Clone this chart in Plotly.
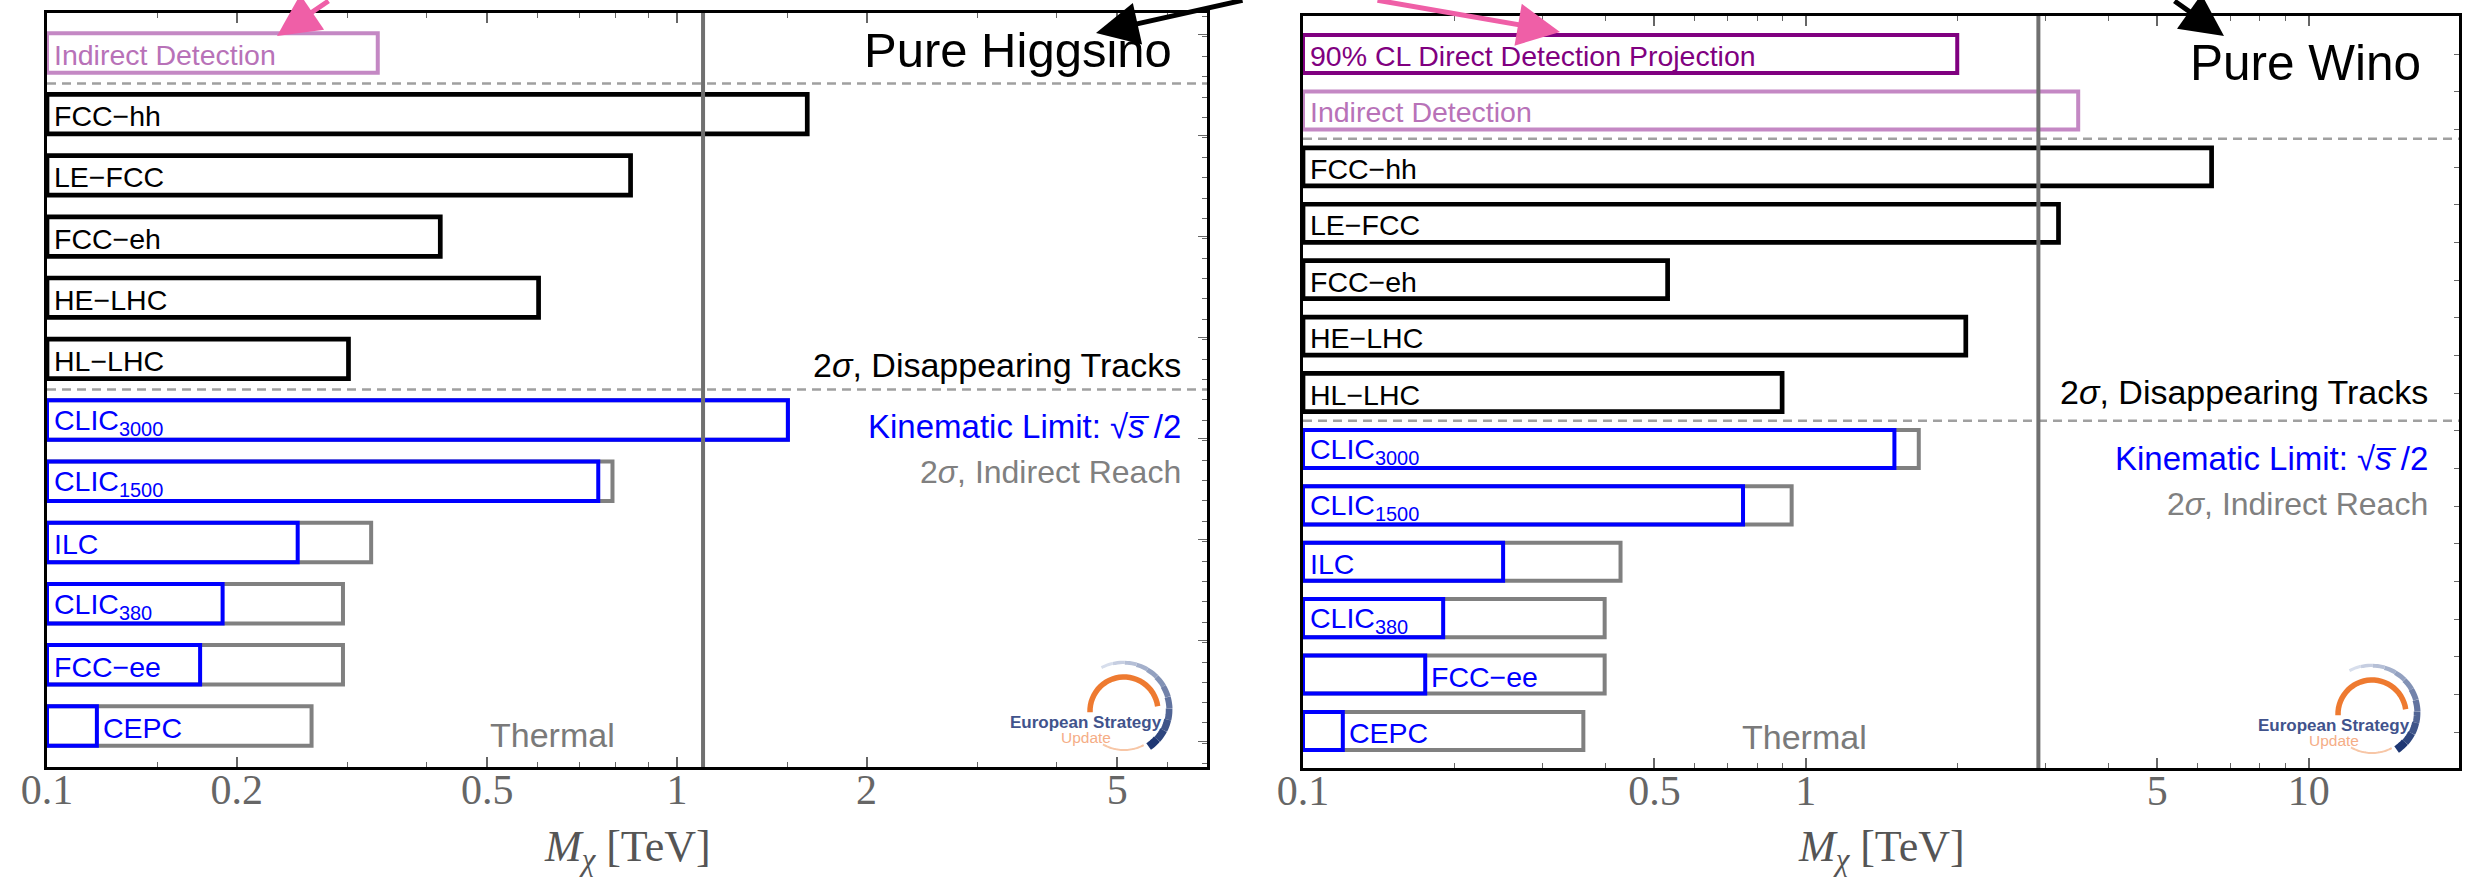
import numpy as np
import plotly.graph_objects as go

W, H = 2465, 878

# ---------------- data (TeV) ----------------
hadron_labels = ["FCC−hh", "LE−FCC", "FCC−eh", "HE−LHC", "HL−LHC"]
lepton_labels = ["CLIC<sub>3000</sub>", "CLIC<sub>1500</sub>", "ILC", "CLIC<sub>380</sub>", "FCC−ee", "CEPC"]

# Pure Higgsino
higgsino_indirect_detection = [0.335]
higgsino_hadron = [1.61, 0.844, 0.421, 0.603, 0.301]
higgsino_kinematic = [1.50, 0.75, 0.25, 0.19, 0.175, 0.12]
higgsino_indirect_reach = [1.50, 0.79, 0.327, 0.295, 0.295, 0.263]
higgsino_thermal = 1.1

# Pure Wino
wino_direct_detection = [2.0]
wino_indirect_detection = [3.48]
wino_hadron = [6.41, 3.18, 0.531, 2.08, 0.897]
wino_kinematic = [1.50, 0.75, 0.25, 0.19, 0.175, 0.12]
wino_indirect_reach = [1.677, 0.937, 0.428, 0.398, 0.398, 0.361]
wino_thermal = 2.9

# ticks
left_tickvals = [0.1, 0.2, 0.5, 1, 2, 5]
left_ticktext = ["0.1", "0.2", "0.5", "1", "2", "5"]
left_minor = [0.15, 0.3, 0.4, 0.6, 0.7, 0.8, 0.9, 1.5, 3, 4, 6]
right_tickvals = [0.1, 0.5, 1, 5, 10]
right_ticktext = ["0.1", "0.5", "1", "5", "10"]
right_minor = [0.2, 0.3, 0.4, 0.6, 0.7, 0.8, 0.9, 2, 3, 4, 6, 7, 8, 9]

SANS = "Liberation Sans, Arial, Helvetica, sans-serif"
SERIF = "Liberation Serif, Times New Roman, serif"
BLUE = "#0000ff"
GRAY = "#808080"
PINK_LIGHT = "#c488c4"
PURPLE = "#800080"


def px(x):
    return x / W


def py(y):
    return 1 - y / H


fig = go.Figure()

LEFT = dict(x0=47, x1=1207, ytop=13, ybot=767, xr=[0.1, 6.94], yr=[-0.670, 11.654], bw=0.645)
RIGHT = dict(x0=1303, x1=2459, ytop=16, ybot=768, xr=[0.1, 19.9], yr=[-0.656, 12.674], bw=0.675)


def add_bars(xa, ya, vals, ypos, color, lw, width):
    fig.add_trace(go.Bar(orientation="h", y=ypos, x=[v - 0.1 for v in vals], base=[0.1] * len(vals),
                         width=width, marker=dict(color="rgba(0,0,0,0)", line=dict(color=color, width=lw)),
                         xaxis=xa, yaxis=ya, showlegend=False, hoverinfo="skip"))


def add_label(xa, ya, text, y, color, xval=0.1, xshift=5):
    fig.add_annotation(xref=xa, yref=ya, x=np.log10(xval), y=y, text=text, showarrow=False,
                       xanchor="left", yanchor="middle", xshift=xshift, yshift=-2,
                       font=dict(family=SANS, size=28.5, color=color))


def add_text(x, y, text, size, color, anchor="right", family=SANS):
    fig.add_annotation(xref="paper", yref="paper", x=px(x), y=py(y), text=text, showarrow=False,
                       xanchor=anchor, yanchor="middle", font=dict(family=family, size=size, color=color))


def panel(xa, ya, P, top_rows, hadron, kin, ind, outside, thermal):
    n_top = len(top_rows)
    hadron_y = [5 + len(hadron) - i for i in range(len(hadron))]
    lepton_y = [len(kin) - 1 - i for i in range(len(kin))]
    # thermal line
    fig.add_trace(go.Scatter(x=[thermal, thermal], y=P["yr"], mode="lines",
                             line=dict(color="#707070", width=4), xaxis=xa, yaxis=ya,
                             showlegend=False, hoverinfo="skip"))
    # top rows (direct / indirect detection)
    for k, (vals, color, text, tcolor) in enumerate(top_rows):
        yv = 11 + n_top - 1 - k
        add_bars(xa, ya, vals, [yv], color, 4, P["bw"])
        add_label(xa, ya, text, yv, tcolor)
    # hadron colliders
    add_bars(xa, ya, hadron, hadron_y, "black", 4.7, P["bw"])
    for t, yv in zip(hadron_labels, hadron_y):
        add_label(xa, ya, t, yv, "black")
    # lepton colliders
    add_bars(xa, ya, ind, lepton_y, GRAY, 4, P["bw"])
    add_bars(xa, ya, kin, lepton_y, BLUE, 4, P["bw"])
    for t, yv, kv, out in zip(lepton_labels, lepton_y, kin, outside):
        if out:
            add_label(xa, ya, t, yv, BLUE, xval=kv, xshift=4)
        else:
            add_label(xa, ya, t, yv, BLUE)
    # dashed separators
    for yv in (10.5, 5.5):
        fig.add_shape(type="line", xref=xa + " domain", yref=ya, x0=0, x1=1, y0=yv, y1=yv,
                      line=dict(color="#a0a0a0", width=2.5, dash="9px,6px"), layer="below")


panel("x", "y", LEFT,
      [(higgsino_indirect_detection, PINK_LIGHT, "Indirect Detection", "#b872b8")],
      higgsino_hadron, higgsino_kinematic, higgsino_indirect_reach,
      [False, False, False, False, False, True], higgsino_thermal)
panel("x2", "y2", RIGHT,
      [(wino_direct_detection, PURPLE, "90% CL Direct Detection Projection", PURPLE),
       (wino_indirect_detection, PINK_LIGHT, "Indirect Detection", "#b872b8")],
      wino_hadron, wino_kinematic, wino_indirect_reach,
      [False, False, False, False, True, True], wino_thermal)


def xaxis_cfg(P, tv, tt, minor, anchor):
    return dict(type="log", domain=[px(P["x0"]), px(P["x1"])],
                range=[np.log10(P["xr"][0]), np.log10(P["xr"][1])],
                tickmode="array", tickvals=tv, ticktext=tt, ticks="inside", ticklen=10,
                tickwidth=1.5, tickcolor="#666", ticklabelstandoff=-16,
                minor=dict(tickmode="array", tickvals=minor, ticks="inside", ticklen=5,
                           tickwidth=1.2, tickcolor="#666", showgrid=False),
                showline=True, linecolor="black", linewidth=3, mirror="allticks",
                showgrid=False, zeroline=False, anchor=anchor,
                tickfont=dict(family=SERIF, size=42, color="#666"), automargin=False, fixedrange=True)


def yaxis_cfg(P, anchor, major, minor):
    return dict(domain=[py(P["ybot"]), py(P["ytop"])], range=P["yr"], side="right", anchor=anchor,
                showticklabels=False, ticks="inside", tickmode="array", tickvals=major, ticklen=9,
                tickwidth=1.2, tickcolor="#666",
                minor=dict(tickmode="array", tickvals=minor, ticks="inside", ticklen=5,
                           tickwidth=1.2, tickcolor="#666", showgrid=False),
                showline=True, mirror=True, linecolor="black", linewidth=2.5,
                showgrid=False, zeroline=False, automargin=False, fixedrange=True)


left_ymajor = list(np.arange(8.0, -1.0, -1.65)) + [9.65, 11.3]
left_yminor = list(np.arange(11.6, -0.7, -0.33))
right_yminor = list(np.arange(12.0, -0.7, -0.668))

fig.update_layout(
    width=W, height=H, autosize=False, template="none",
    margin=dict(l=0, r=0, t=0, b=0, pad=0),
    paper_bgcolor="white", plot_bgcolor="white",
    barmode="overlay", showlegend=False,
    xaxis=xaxis_cfg(LEFT, left_tickvals, left_ticktext, left_minor, "y"),
    yaxis=yaxis_cfg(LEFT, "x", left_ymajor, left_yminor),
    xaxis2=xaxis_cfg(RIGHT, right_tickvals, right_ticktext, right_minor, "y2"),
    yaxis2=yaxis_cfg(RIGHT, "x2", [], right_yminor),
)

# ---------------- texts ----------------
sqrt_s = "√<i>s\u0305</i> /2"
for (xr, ys, thermal_x, thermal_y) in [
    (1183, (365, 426, 472), 617, 735),
    (2430, (392, 458, 504), 1869, 737),
]:
    add_text(xr, ys[0], "2<i>σ</i>, Disappearing Tracks", 34, "black")
    add_text(xr, ys[1], "Kinematic Limit: " + sqrt_s, 33, BLUE)
    add_text(xr, ys[2], "2<i>σ</i>, Indirect Reach", 32, GRAY)
    add_text(thermal_x, thermal_y, "Thermal", 34, "#7a7a7a")

add_text(1174, 50, "Pure Higgsino", 49, "black")
add_text(2423, 62, "Pure Wino", 49.5, "black")

title = "<i>M</i><sub><i>χ</i></sub> [TeV]"
add_text(627, 849, title, 44, "#555", anchor="center", family=SERIF)
add_text(1881, 849, title, 44, "#555", anchor="center", family=SERIF)

# ---------------- arrows (slide annotations) ----------------
for (tx, ty, ax, ay, col) in [
    (277, 36, 53, -46, "#ef5fa7"),
    (1096, 33, 148, -43, "black"),
    (1560, 32, -184, -42, "#ef5fa7"),
    (2224, 36, -51, -46, "black"),
]:
    fig.add_annotation(xref="paper", yref="paper", x=px(tx), y=py(ty), ax=ax, ay=ay, text="",
                       showarrow=True, arrowhead=2, arrowsize=1.7, arrowwidth=5, arrowcolor=col,
                       standoff=0)


# ---------------- logos ----------------
def arc_path(cx, cy, r, a0, a1, n=30):
    a = np.radians(np.linspace(a0, a1, n))
    xs = cx + r * np.cos(a)
    ys = cy - r * np.sin(a)
    return "M " + " L ".join(f"{px(x):.5f},{py(y):.5f}" for x, y in zip(xs, ys))


def logo(cx, cy):
    segs = 12
    angs = np.linspace(118, -56, segs + 1)
    c0 = np.array([215, 222, 236])
    c1 = np.array([30, 55, 115])
    for i in range(segs):
        t = i / (segs - 1)
        c = (c0 + (c1 - c0) * t).astype(int)
        fig.add_shape(type="path", xref="paper", yref="paper",
                      path=arc_path(cx, cy, 48 - 4 * t, angs[i], angs[i + 1], 6),
                      line=dict(color=f"rgb({c[0]},{c[1]},{c[2]})", width=3 + 5 * t))
    fig.add_shape(type="path", xref="paper", yref="paper", path=arc_path(cx, cy + 1, 34, 182, 8),
                  line=dict(color="#ee7a30", width=5.5))
    fig.add_shape(type="path", xref="paper", yref="paper", path=arc_path(cx, cy - 2, 42, -120, -62),
                  line=dict(color="#f7c6a6", width=2))
    add_text(cx - 38, cy + 12, "<b>European Strategy</b>", 17, "#41538c", anchor="center")
    add_text(cx - 38, cy + 27, "Update", 15.5, "#f5ad86", anchor="center")


logo(2372, 713)
logo(1124, 710)

fig.write_html("out.html", config={"displayModeBar": False},
               post_script="document.body.style.margin='0';document.body.style.overflow='hidden';")
